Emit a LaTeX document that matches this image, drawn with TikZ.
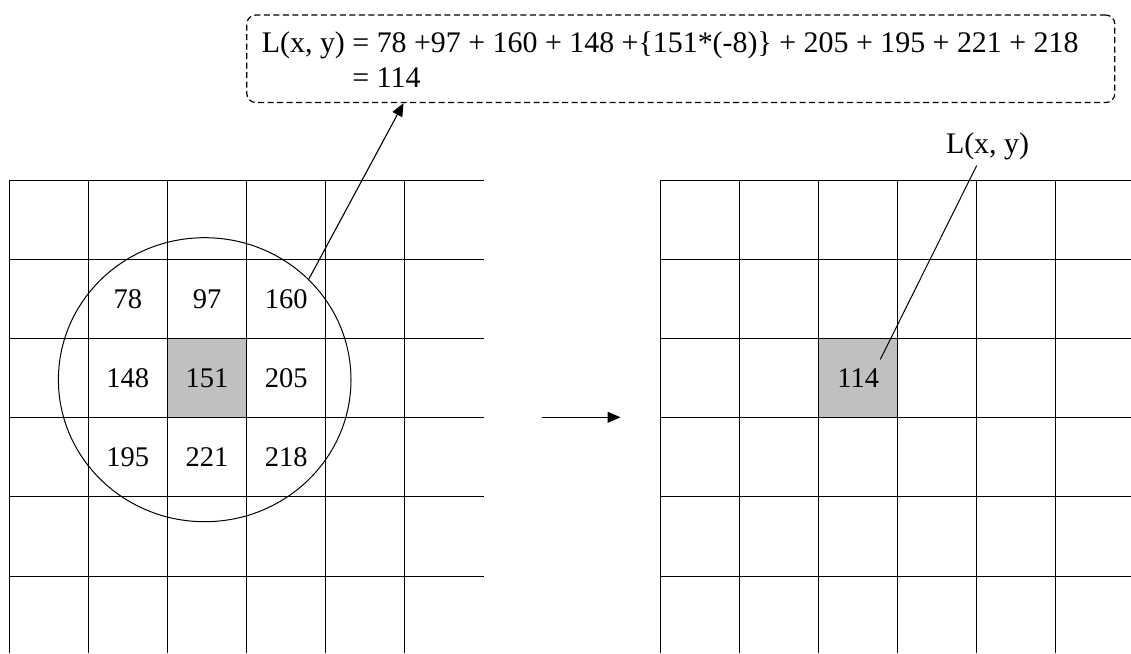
\documentclass[tikz,border=0pt]{standalone}
\usepackage{fontspec}
\setmainfont{Liberation Serif}
\usetikzlibrary{arrows.meta,shapes.geometric,calc}
\definecolor{cellgray}{RGB}{192,192,192}
\begin{document}
\begin{tikzpicture}[x=1pt,y=-1pt,
  gridline/.style={line width=1.1pt},
  numtext/.style={font=\fontsize{28.5}{34}\selectfont, inner sep=0pt},
  eqtext/.style={font=\fontsize{29.9}{35}\selectfont, inner sep=0pt},
  callout/.style={draw, line width=1.2pt, dash pattern=on 6pt off 3.5pt, rounded corners=9pt, inner sep=0pt},
  arr/.style={line width=1.1pt, -{Triangle[length=13pt,width=11pt]}},
  thinline/.style={line width=1pt}]
\useasboundingbox (0,0) rectangle (1131,653);

% shaded cells
\fill[cellgray] (167.5,338.5) rectangle (246.5,417.5);
\fill[cellgray] (818.5,338.5) rectangle (897.5,417.5);

% grids
\foreach \y in {180.5,259.5,338.5,417.5,496.5,576.5} {
  \draw[gridline] (9,\y) -- (484,\y);
  \draw[gridline] (660,\y) -- (1131,\y);
}
\foreach \x in {9.5,88.5,167.5,246.5,325.5,404.5} {
  \draw[gridline] (\x,180) -- (\x,653);
}
\foreach \x in {660.5,739.5,818.5,897.5,976.5,1055.5} {
  \draw[gridline] (\x,180) -- (\x,653);
}

% neighbourhood values
\node[numtext] (v11) at (127.8,298.8) {78};
\node[numtext] (v12) at (207.0,298.8) {97};
\node[numtext] (v13) at (286.2,298.8) {160};
\node[numtext] (v21) at (127.8,378.0) {148};
\node[numtext] (v22) at (207.0,378.0) {151};
\node[numtext] (v23) at (286.2,378.0) {205};
\node[numtext] (v31) at (127.8,457.2) {195};
\node[numtext] (v32) at (207.0,457.2) {221};
\node[numtext] (v33) at (286.2,457.2) {218};

% circle
\node[draw, ellipse, line width=1pt, minimum width=292.6pt, minimum height=284pt, inner sep=0pt] (circ) at (204.7,379.7) {};

% callout box with equation
\node[callout, minimum width=868pt, minimum height=87.5pt] (box) at (680.8,58.8) {};
\node[eqtext, anchor=base west] (eq1) at (261.7,52.3) {L(x, y) = 78 +97 + 160 + 148 +\{151*(-8)\} + 205 + 195 + 221 + 218};
\node[eqtext, anchor=base west] (eq2) at (261.7,87.3) {\hphantom{L(x, y) }= 114};

\draw[arr] (circ.44) -- ([xshift=157.3pt]box.south west);

% transformation arrow
\coordinate (a1) at (541.7,417.3);
\coordinate (a2) at (620.5,417.3);
\draw[arr] (a1) -- (a2);

% result
\node[numtext] (v114) at (858.3,378.0) {114};
\node[eqtext] (lbl) at (987.5,146.7) {L(x, y)};
\draw[thinline] ([xshift=1pt,yshift=9pt]v114.north east) -- ([xshift=-10.8pt,yshift=-5pt]lbl.south);

\end{tikzpicture}
\end{document}
